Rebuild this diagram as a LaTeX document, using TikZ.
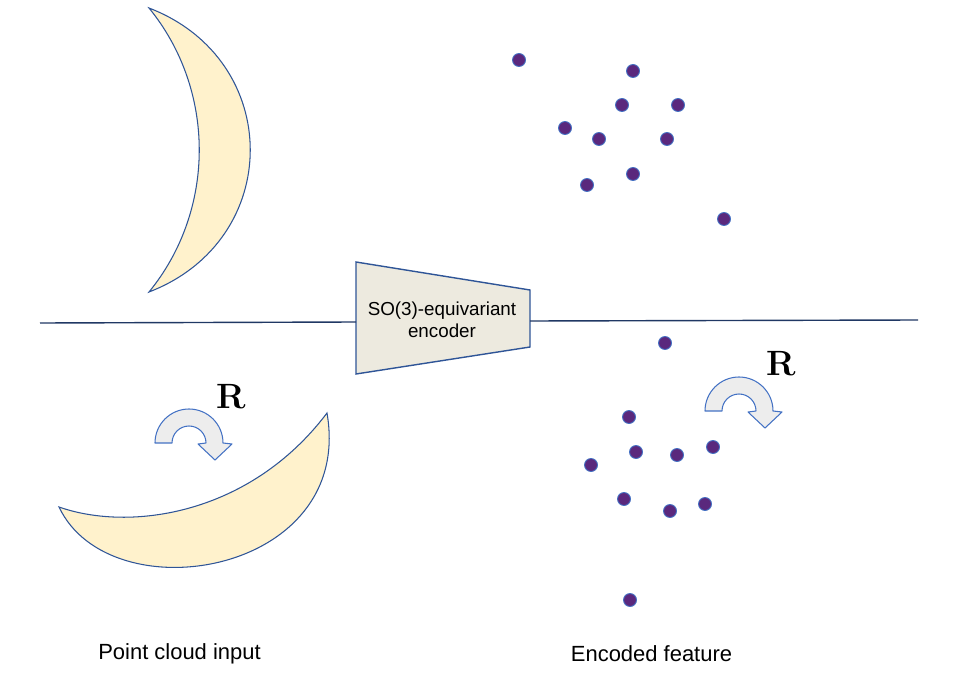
\documentclass[tikz,border=0pt]{standalone}
\usepackage{fontspec}
\setsansfont{Liberation Sans}
\usepackage{tikz}
\definecolor{moonfill}{HTML}{FFF2CC}
\definecolor{edgeblue}{HTML}{2F5597}
\definecolor{lineblue}{HTML}{203864}
\definecolor{arrowfill}{HTML}{EDEDED}
\definecolor{arrowedge}{HTML}{4472C4}
\definecolor{encfill}{HTML}{EDEADF}
\definecolor{dotfill}{HTML}{5A287D}
\tikzset{
  moon/.style={fill=moonfill,draw=edgeblue,line width=0.6pt},
  encbox/.style={fill=encfill,draw=edgeblue,line width=0.8pt},
  wire/.style={draw=lineblue,line width=0.8pt},
  featdot/.style={fill=dotfill,draw=arrowedge,line width=0.5pt},
  rotlabel/.style={font={\fontsize{20}{22}\selectfont\bfseries}},
  caption/.style={font={\fontsize{12.5}{15}\selectfont\sffamily}},
  enclabel/.style={font={\fontsize{10.7}{12.6}\selectfont\sffamily},align=center},
  turnarrow/.pic={
    \draw[fill=arrowfill,draw=arrowedge,line width=0.6pt,line join=round]
      (-34,0) arc[start angle=180,end angle=360,radius=34]
      -- (43,1) -- (26,17) -- (9,1) -- (17,0)
      arc[start angle=0,end angle=-180,radius=17] -- cycle;
  }
}

\begin{document}
\begin{tikzpicture}[x=0.02cm,y=-0.02cm]
\useasboundingbox (0,0) rectangle (953,682);

% input shape, upright and rotated
\draw[moon] (149,8) .. controls (284,60) and (284,240) .. (149,292)
  .. controls (216,210) and (216,90) .. (149,8) -- cycle;
\draw[moon] (59,507) .. controls (110,615) and (355,575) .. (327,413)
  .. controls (250,515) and (130,532) .. (59,507) -- cycle;

% encoder
\coordinate (inL) at (40,323);
\coordinate (encL) at (356,322);
\coordinate (encR) at (530,321);
\coordinate (outR) at (918,320);
\draw[encbox] (356,262) -- (530,290) -- (530,347) -- (356,374) -- cycle;
\node[enclabel] (enc) at (442,320) {SO(3)-equivariant\\encoder};
\draw[wire] (inL) -- (encL);
\draw[wire] (encR) -- (outR);

% encoded features
\foreach \x/\y in {519/60,633/71,622/105,678/105,565/128,599/139,667/139,633/174,587/185,724/219}
  \draw[featdot] (\x,\y) circle[radius=6.5];
\foreach \x/\y in {665/343,629/417,636/452,677/455,713/447,591/465,624/499,670/511,705/504,630/600}
  \draw[featdot] (\x,\y) circle[radius=6.5];

% rotations
\pic at (189,443) {turnarrow};
\pic at (739,411) {turnarrow};
\node[rotlabel] (rotL) at (231,397) {R};
\node[rotlabel] (rotR) at (781,364) {R};

\node[caption] (capL) at (179.5,654) {Point cloud input};
\node[caption] (capR) at (651.5,654) {Encoded feature};
\end{tikzpicture}
\end{document}
